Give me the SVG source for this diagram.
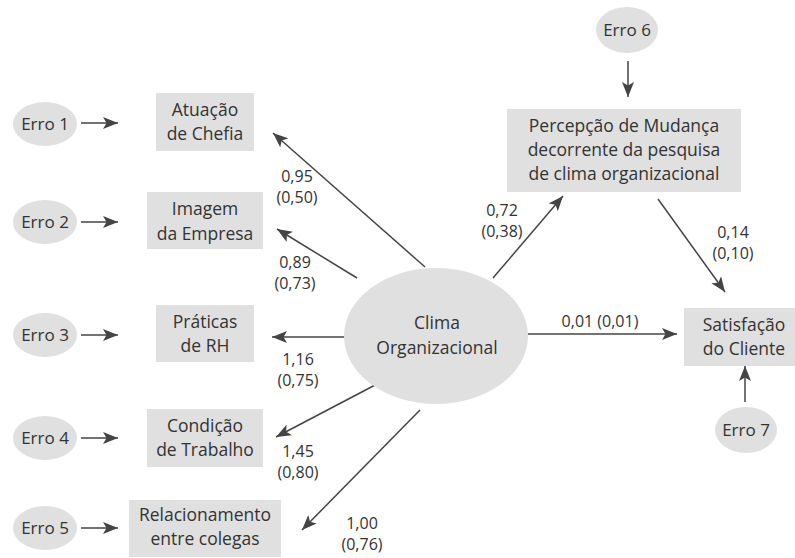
<svg xmlns="http://www.w3.org/2000/svg" width="795" height="558" viewBox="0 0 795 558">
<defs>
<style>
.bg{fill:#ffffff}
.n{fill:#e0e0e0;stroke:none}
.t{font-family:"Open Sans","Liberation Sans",sans-serif;font-size:17.5px;fill:#333333;text-anchor:middle}
.e{font-family:"Open Sans","Liberation Sans",sans-serif;font-size:17px;fill:#333333;text-anchor:middle}
.l{font-family:"Open Sans","Liberation Sans",sans-serif;font-size:16px;fill:#333333;text-anchor:middle}
.c{stroke:#444444;stroke-width:1.5;fill:none;marker-end:url(#ah)}
</style>
<marker id="ah" markerUnits="userSpaceOnUse" markerWidth="17" markerHeight="13" refX="15" refY="6.5" orient="auto">
<path d="M0,0.5 L15,6.5 L0,12.5 L3.5,6.5 z" fill="#444444"/>
</marker>
</defs>
<rect class="bg" x="0" y="0" width="795" height="558"/>
<g id="connectors">
<line class="c" x1="81" y1="123" x2="118" y2="123"/>
<line class="c" x1="81" y1="222" x2="118" y2="222"/>
<line class="c" x1="81" y1="335" x2="118" y2="335"/>
<line class="c" x1="81" y1="438" x2="118" y2="438"/>
<line class="c" x1="81" y1="528" x2="118" y2="528"/>
<line class="c" x1="628" y1="61" x2="628" y2="97"/>
<line class="c" x1="745" y1="402" x2="745" y2="366"/>
<line class="c" x1="425" y1="267" x2="273" y2="133"/>
<line class="c" x1="357" y1="278" x2="277" y2="229"/>
<line class="c" x1="346" y1="337" x2="272" y2="337"/>
<line class="c" x1="377" y1="384" x2="276" y2="437"/>
<line class="c" x1="420" y1="410" x2="302" y2="530"/>
<line class="c" x1="493" y1="278" x2="563" y2="196"/>
<line class="c" x1="658" y1="199" x2="725" y2="292"/>
<line class="c" x1="528" y1="334" x2="677" y2="334"/>
</g>
<g id="labels">
<text class="l" x="297" y="182">0,95</text>
<text class="l" x="297" y="203">(0,50)</text>
<text class="l" x="295" y="268">0,89</text>
<text class="l" x="295" y="289">(0,73)</text>
<text class="l" x="298" y="365">1,16</text>
<text class="l" x="298" y="386">(0,75)</text>
<text class="l" x="298" y="457">1,45</text>
<text class="l" x="298" y="478">(0,80)</text>
<text class="l" x="362" y="529">1,00</text>
<text class="l" x="362" y="550">(0,76)</text>
<text class="l" x="502" y="216">0,72</text>
<text class="l" x="502" y="237">(0,38)</text>
<text class="l" x="733" y="238">0,14</text>
<text class="l" x="733" y="259">(0,10)</text>
<text class="l" x="600" y="327">0,01 (0,01)</text>
</g>
<g id="erro1"><ellipse class="n" cx="45" cy="124" rx="32" ry="22"/><text class="e" x="45" y="130">Erro 1</text></g>
<g id="erro2"><ellipse class="n" cx="45" cy="222" rx="32" ry="22"/><text class="e" x="45" y="228">Erro 2</text></g>
<g id="erro3"><ellipse class="n" cx="45" cy="335" rx="32" ry="22"/><text class="e" x="45" y="341">Erro 3</text></g>
<g id="erro4"><ellipse class="n" cx="45" cy="438" rx="32" ry="22"/><text class="e" x="45" y="444">Erro 4</text></g>
<g id="erro5"><ellipse class="n" cx="45" cy="528" rx="32" ry="22"/><text class="e" x="45" y="534">Erro 5</text></g>
<g id="erro6"><ellipse class="n" cx="627" cy="30" rx="31" ry="23"/><text class="e" x="627" y="36">Erro 6</text></g>
<g id="erro7"><ellipse class="n" cx="746" cy="430" rx="31" ry="23"/><text class="e" x="746" y="436">Erro 7</text></g>
<g id="atuacao"><rect class="n" x="156" y="93" width="98" height="58"/><text class="t" x="205" y="116">Atuação</text><text class="t" x="205" y="140">de Chefia</text></g>
<g id="imagem"><rect class="n" x="147" y="192" width="116" height="57"/><text class="t" x="205" y="215">Imagem</text><text class="t" x="205" y="240">da Empresa</text></g>
<g id="praticas"><rect class="n" x="156" y="305" width="98" height="57"/><text class="t" x="205" y="328">Práticas</text><text class="t" x="205" y="352">de RH</text></g>
<g id="condicao"><rect class="n" x="147" y="409" width="116" height="58"/><text class="t" x="205" y="432">Condição</text><text class="t" x="205" y="456">de Trabalho</text></g>
<g id="relacionamento"><rect class="n" x="129" y="500" width="152" height="57"/><text class="t" x="205" y="521">Relacionamento</text><text class="t" x="205" y="545">entre colegas</text></g>
<g id="clima"><ellipse class="n" cx="436" cy="336" rx="92" ry="68"/><text class="t" x="437" y="329">Clima</text><text class="t" x="437" y="354">Organizacional</text></g>
<g id="percepcao"><rect class="n" x="507" y="109" width="234" height="83"/><text class="t" x="624" y="132">Percepção de Mudança</text><text class="t" x="624" y="156">decorrente da pesquisa</text><text class="t" x="624" y="180">de clima organizacional</text></g>
<g id="satisfacao"><rect class="n" x="684" y="308" width="111" height="58"/><text class="t" x="744" y="331">Satisfação</text><text class="t" x="744" y="355">do Cliente</text></g>
</svg>
